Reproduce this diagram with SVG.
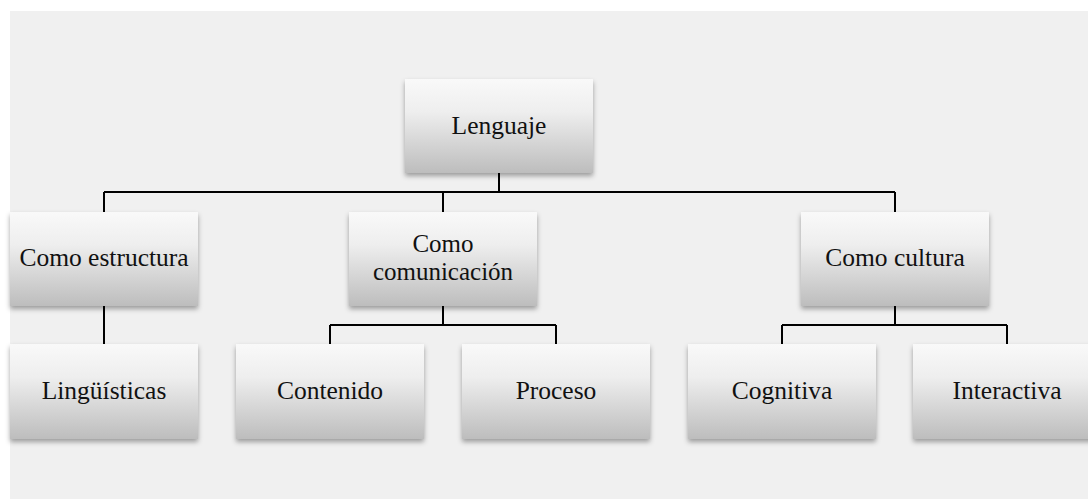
<svg xmlns="http://www.w3.org/2000/svg" width="1088" height="499" viewBox="0 0 1088 499">
<style>
.box{fill:url(#g);filter:url(#sh)}
.t{font-family:"Liberation Serif","Times New Roman",serif;font-size:25.5px;fill:#111;text-anchor:middle}
.t2{font-size:25px}
.c{fill:none;stroke:#000;stroke-width:2}
</style>
<defs>
<linearGradient id="g" x1="0" y1="0" x2="0" y2="1">
<stop offset="0" stop-color="#f9f9f9"/>
<stop offset="0.35" stop-color="#eeeeee"/>
<stop offset="1" stop-color="#bdbdbd"/>
</linearGradient>
<filter id="sh" x="-10%" y="-10%" width="120%" height="130%">
<feDropShadow dx="0" dy="3" stdDeviation="2.5" flood-color="#000" flood-opacity="0.35"/>
</filter>
</defs>
<rect x="0" y="0" width="1088" height="499" fill="#fff"/>
<rect x="10" y="11" width="1078" height="488" fill="#f0f0f0"/>
<g id="connectors">
<path class="c" d="M499 173V192M104 192H895M104 192V212M443 192V212M895 192V212"/>
<path class="c" d="M104 306V344"/>
<path class="c" d="M443 306V325M330 325H556M330 325V344M556 325V344"/>
<path class="c" d="M895 306V325M782 325H1007M782 325V344M1007 325V344"/>
</g>
<g id="lenguaje"><rect class="box" x="405" y="79" width="188" height="94"/><text class="t" x="499" y="134">Lenguaje</text></g>
<g id="estructura"><rect class="box" x="10" y="212" width="188" height="94"/><text class="t" x="104" y="266">Como estructura</text></g>
<g id="comunicacion"><rect class="box" x="349" y="212" width="188" height="94"/><text class="t t2" x="443" y="252">Como</text><text class="t t2" x="443" y="280">comunicación</text></g>
<g id="cultura"><rect class="box" x="801" y="212" width="188" height="94"/><text class="t" x="895" y="266">Como cultura</text></g>
<g id="linguisticas"><rect class="box" x="10" y="344" width="188" height="95"/><text class="t" x="104" y="399">Lingüísticas</text></g>
<g id="contenido"><rect class="box" x="236" y="344" width="188" height="95"/><text class="t" x="330" y="399">Contenido</text></g>
<g id="proceso"><rect class="box" x="462" y="344" width="188" height="95"/><text class="t" x="556" y="399">Proceso</text></g>
<g id="cognitiva"><rect class="box" x="688" y="344" width="188" height="95"/><text class="t" x="782" y="399">Cognitiva</text></g>
<g id="interactiva"><rect class="box" x="913" y="344" width="188" height="95"/><text class="t" x="1007" y="399">Interactiva</text></g>
</svg>
